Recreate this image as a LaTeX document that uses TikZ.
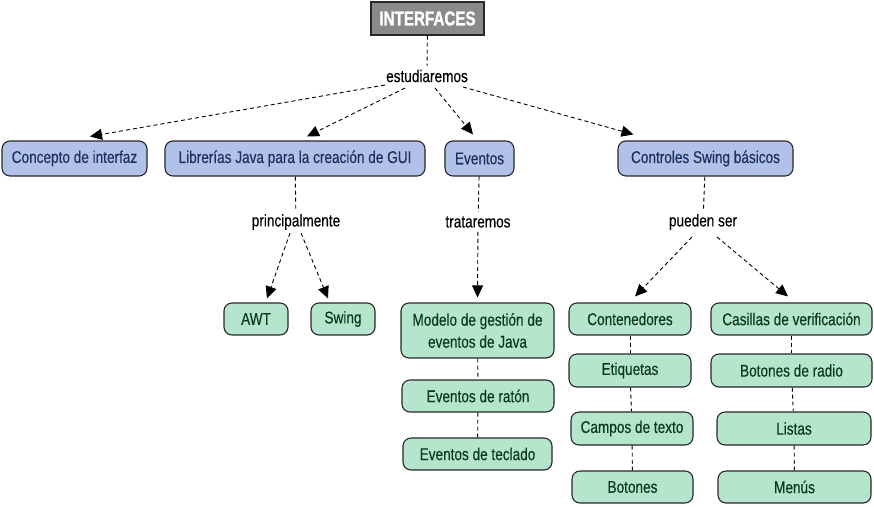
\documentclass[tikz,border=0pt]{standalone}
\usepackage{fontspec}
\setmainfont{Liberation Sans}[FakeStretch=0.8, FakeBold=0.3]
\newfontfamily\titlefont{Liberation Sans}[FakeStretch=0.76, BoldFeatures={FakeBold=1.2}]
\usetikzlibrary{arrows.meta}
\definecolor{bluefill}{RGB}{178,193,232}
\definecolor{bluetext}{RGB}{30,48,96}
\definecolor{greenfill}{RGB}{182,229,205}
\definecolor{greentext}{RGB}{10,58,26}
\definecolor{grayfill}{RGB}{138,138,138}
\definecolor{edgecol}{RGB}{40,40,40}
\tikzset{
  concept/.style={draw=edgecol, line width=1.1pt, rounded corners=8pt, inner sep=0pt, align=center, font=\fontsize{17}{22}\selectfont},
  bluebox/.style={concept, fill=bluefill, text=bluetext, minimum height=35pt},
  greenbox/.style={concept, fill=greenfill, text=greentext, minimum height=32pt},
  topbox/.style={draw=edgecol, line width=1.1pt, fill=grayfill, text=white, inner sep=0pt, minimum width=113pt, minimum height=33pt, font=\titlefont\fontsize{20}{20}\selectfont\bfseries},
  linkword/.style={inner sep=4pt, font=\fontsize{17}{18}\selectfont, text=black},
  conn/.style={draw=black, line width=0.9pt, dash pattern=on 4pt off 3pt},
  arr/.style={conn, -{Triangle[length=12pt, width=11pt]}}
}
\begin{document}
\begin{tikzpicture}[x=1pt, y=-1pt]
\useasboundingbox (0,0) rectangle (874,506);
\node[topbox] (top) at (427.5,18.5) {INTERFACES};
\node[linkword] (est) at (427,76) {estudiaremos};
\node[bluebox, minimum width=145pt] (conc) at (74.5,158.5) {Concepto de interfaz};
\node[bluebox, minimum width=260pt] (lib) at (295,158.5) {Librerías Java para la creación de GUI};
\node[bluebox, minimum width=69pt] (ev) at (479.5,158.5) {Eventos};
\node[bluebox, minimum width=175pt] (ctl) at (705.5,158.5) {Controles Swing básicos};
\node[linkword] (prin) at (296,222) {principalmente};
\node[linkword] (trat) at (478,222) {trataremos};
\node[linkword] (pued) at (703,222) {pueden ser};
\node[greenbox, minimum width=64pt] (awt) at (256,319) {AWT};
\node[greenbox, minimum width=64pt] (swing) at (343,319) {Swing};
\node[greenbox, minimum width=153pt, minimum height=55pt] (mod) at (477.5,330.5) {Modelo de gestión de\\eventos de Java};
\node[greenbox, minimum width=152pt] (rat) at (478,396) {Eventos de ratón};
\node[greenbox, minimum width=149pt] (tec) at (477.5,454) {Eventos de teclado};
\node[greenbox, minimum width=122pt] (cont) at (630,319) {Contenedores};
\node[greenbox, minimum width=122pt, minimum height=33pt] (etiq) at (630,370.5) {Etiquetas};
\node[greenbox, minimum width=122pt, minimum height=33pt] (camp) at (632,428.5) {Campos de texto};
\node[greenbox, minimum width=121pt] (bot) at (632.5,487) {Botones};
\node[greenbox, minimum width=161pt] (cas) at (791.5,319) {Casillas de verificación};
\node[greenbox, minimum width=161pt, minimum height=33pt] (rad) at (791.5,370.5) {Botones de radio};
\node[greenbox, minimum width=154pt, minimum height=33pt] (lis) at (794,428.5) {Listas};
\node[greenbox, minimum width=153pt] (men) at (794.5,487) {Menús};
% connectors
\draw[conn] (top) -- (est);
\draw[arr] ([xshift=-42pt,yshift=-9pt]est.center) -- ([xshift=15.5pt,yshift=4pt]conc.north);
\draw[arr] ([xshift=-22pt,yshift=-12pt]est.center) -- ([xshift=12pt,yshift=4pt]lib.north);
\draw[arr] ([xshift=8pt,yshift=-12pt]est.center) -- ([xshift=-6.5pt,yshift=6pt]ev.north);
\draw[arr] ([xshift=36pt,yshift=-11pt]est.center) -- ([xshift=-72pt,yshift=6pt]ctl.north);
\draw[conn] (lib) -- (prin);
\draw[arr] ([xshift=-6pt,yshift=-11pt]prin.center) -- ([xshift=11pt,yshift=4pt]awt.north);
\draw[arr] ([xshift=5pt,yshift=-11pt]prin.center) -- ([xshift=-15pt,yshift=4pt]swing.north);
\draw[conn] (ev) -- (trat);
\draw[arr] (trat) -- ([yshift=5pt]mod.north);
\draw[conn] (ctl) -- (pued);
\draw[arr] ([xshift=-11pt,yshift=-15pt]pued.center) -- ([xshift=5pt,yshift=6pt]cont.north);
\draw[arr] ([xshift=14pt,yshift=-15pt]pued.center) -- ([xshift=-3.5pt,yshift=6pt]cas.north);
\draw[conn] (mod) -- (rat);
\draw[conn] (rat) -- (tec);
\draw[conn] (cont) -- (etiq);
\draw[conn] (etiq) -- (camp);
\draw[conn] (camp) -- (bot);
\draw[conn] (cas) -- (rad);
\draw[conn] (rad) -- (lis);
\draw[conn] (lis) -- (men);
\end{tikzpicture}
\end{document}
